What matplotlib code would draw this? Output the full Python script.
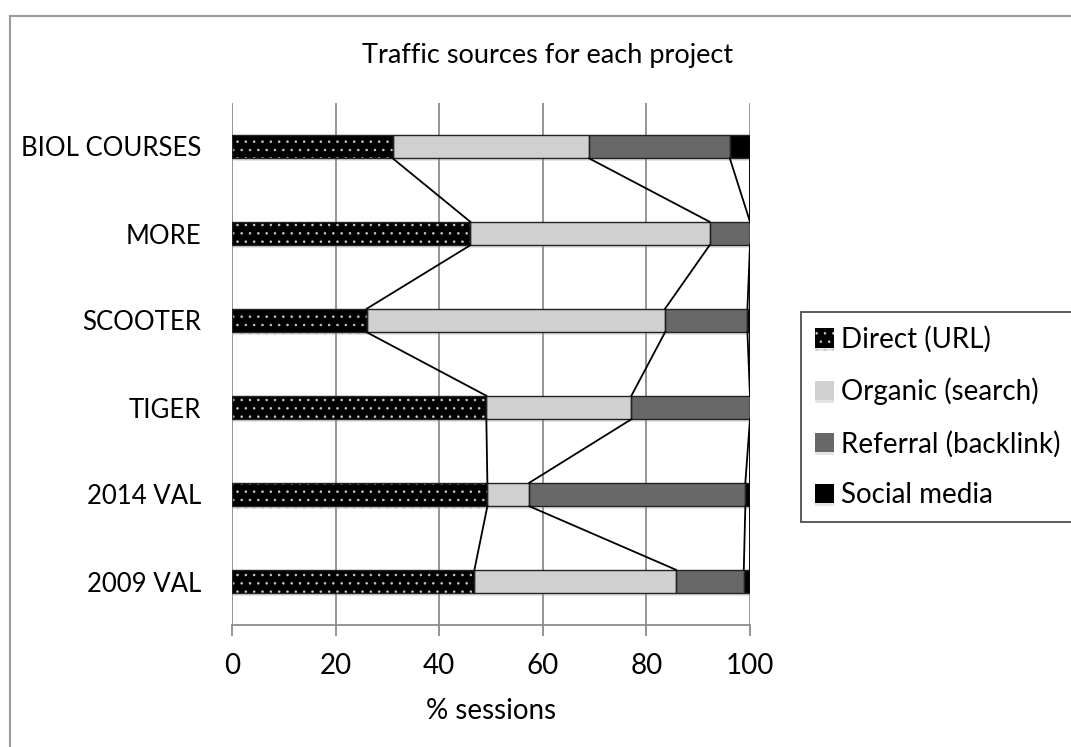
import numpy as np
import matplotlib.pyplot as plt
import matplotlib.patheffects as pe
from matplotlib.lines import Line2D

plt.rcParams['font.family'] = ['Lato', 'DejaVu Sans']
plt.rcParams['hatch.color'] = '#c8c8c8'
plt.rcParams['hatch.linewidth'] = 0.6

# === DATA (percent of sessions) ===
projects = ["BIOL COURSES", "MORE", "SCOOTER", "TIGER", "2014 VAL", "2009 VAL"]
direct   = [31.0, 46.0, 26.0, 49.1, 49.3, 46.8]
organic  = [37.9, 46.2, 57.6, 28.0, 8.1, 38.9]
referral = [27.2, 7.8, 15.9, 22.9, 41.7, 13.1]
social   = [3.9, 0.0, 0.5, 0.0, 0.9, 1.2]
series_names = ["Direct (URL)", "Organic (search)", "Referral (backlink)", "Social media"]
xticks = [0, 20, 40, 60, 80, 100]

colors = ["black", "#d0d0d0", "#686868", "black"]
hatches = ["..", None, None, None]

W, H = 1071, 747
fig = plt.figure(figsize=(W / 100, H / 100), dpi=100)
ax = fig.add_axes([232 / W, 1 - 625 / H, 518 / W, 522 / H])

# outer chart frame (only top and left edges visible)
fig.add_artist(Line2D([10 / W, 1.0], [1 - 16 / H, 1 - 16 / H], color="#9a9a9a", lw=1.5))
fig.add_artist(Line2D([10 / W, 10 / W], [1 - 16 / H, 0.0], color="#9a9a9a", lw=1.5))

y = np.arange(len(projects))
bh = 0.27
data = np.array([direct, organic, referral, social])
left = np.zeros(len(projects))
shadow = [pe.SimplePatchShadow(offset=(0, -2), shadow_rgbFace="#999999", alpha=0.25), pe.Normal()]

handles = []
for vals, name, c, h in zip(data, series_names, colors, hatches):
    bars = ax.barh(y, vals, left=left, height=bh, color=c, hatch=h,
                   edgecolor="#c8c8c8" if h else c, linewidth=0, zorder=3,
                   label=name)
    for b in bars:
        b.set_path_effects(shadow)
    ax.barh(y, vals, left=left, height=bh, fill=False, edgecolor="#222222",
            linewidth=1.0, zorder=4)
    handles.append(bars)
    left = left + vals

# series lines connecting the segment boundaries
cum = np.cumsum(data, axis=0)
for j in range(cum.shape[0]):
    for i in range(len(projects) - 1):
        ax.plot([cum[j, i], cum[j, i + 1]], [y[i] + bh / 2, y[i + 1] - bh / 2],
                color="black", lw=1.3, zorder=5)

ax.set_xlim(0, 100)
ax.set_ylim(len(projects) - 0.5, -0.5)
ax.set_xticks(xticks)
ax.set_yticks(y)
ax.set_yticklabels(projects)
ax.grid(axis="x", color="#8c8c8c", lw=1.3, zorder=0)
ax.set_axisbelow(True)
for s in ["top", "right", "left"]:
    ax.spines[s].set_visible(False)
ax.spines["bottom"].set_color("#8c8c8c")
ax.spines["bottom"].set_linewidth(1.3)
ax.tick_params(axis="x", length=8, width=1.3, color="#8c8c8c", pad=12, labelsize=20)
ax.tick_params(axis="y", length=0, pad=22, labelsize=18.5)
ax.set_xlabel("% sessions", fontsize=20, labelpad=14)

fig.text(548 / W, 1 - 55 / H, "Traffic sources for each project", ha="center",
         va="center", fontsize=19.5)

leg = fig.legend(handles=handles, labels=series_names, loc="upper left",
                 bbox_to_anchor=(801 / W, 1 - 312 / H), fontsize=20,
                 frameon=True, fancybox=False, edgecolor="#222222",
                 handlelength=0.7, handleheight=0.7, handletextpad=0.25,
                 labelspacing=0.9, borderpad=0.5, borderaxespad=0)
leg.get_frame().set_linewidth(1.3)

fig.savefig("out.png", dpi=100)
